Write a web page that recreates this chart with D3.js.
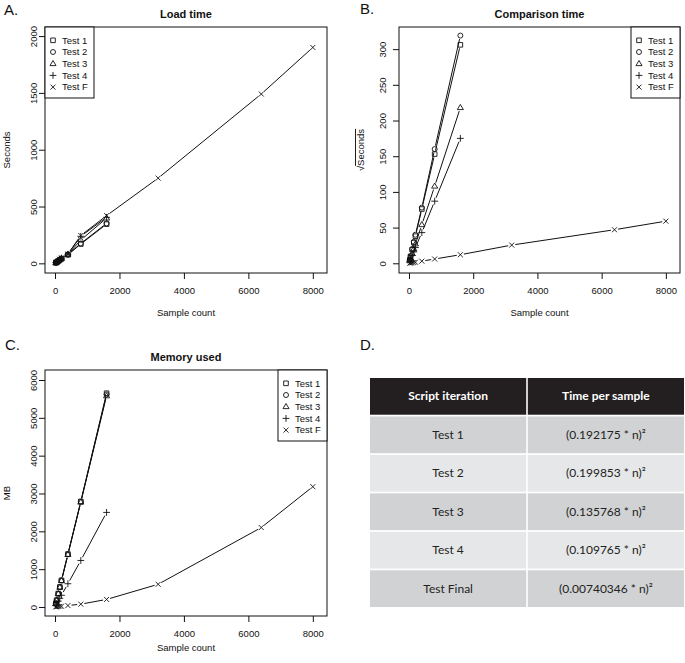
<!DOCTYPE html>
<html>
<head>
<meta charset="utf-8">
<script src="https://cdn.jsdelivr.net/npm/d3@7"></script>
<style>
  body { margin: 0; background: #fff; }
  svg text { font-family: "Liberation Sans", Arial, sans-serif; }
</style>
</head>
<body>
<div id="chart-area"></div>
<script>
// sample counts (x values)
var samples = [25, 50, 100, 150, 200, 400, 800, 1600];
var samplesF = [25, 50, 100, 150, 200, 400, 800, 1600, 3200, 6400, 8000];
var seriesNames = ["Test 1", "Test 2", "Test 3", "Test 4", "Test F"];
var symbolNames = ["square", "circle", "triangle", "plus", "cross"];
var xTicks = [0, 2000, 4000, 6000, 8000];

// A. load time (seconds)
var loadT1 = [5, 10, 20, 30, 40, 75, 170, 345];
var loadT2 = [5, 11, 21, 32, 42, 78, 175, 352];
var loadT3 = [5, 11, 22, 33, 44, 80, 205, 398];
var loadT4 = [6, 12, 23, 35, 46, 80, 238, 405];
var loadTF = [6, 12, 24, 36, 48, 82, 245, 420, 750, 1490, 1900];
var loadTicks = [0, 500, 1000, 1500, 2000];

// B. comparison time (sqrt seconds)
var compT1 = [4.8, 9.6, 19, 29, 38, 76, 153, 306];
var compT2 = [5, 10, 20, 30, 40, 78, 160, 319];
var compT3 = [3.4, 6.8, 13.5, 20, 27, 54, 108, 218];
var compT4 = [2.7, 5.5, 11, 16, 22, 43, 87, 175];
var compTF = [0.2, 0.4, 0.7, 1.1, 1.5, 3, 6, 12, 25.5, 47, 59];
var compTicks = [0, 50, 100, 150, 200, 250, 300];

// C. memory used (MB)
var memT1 = [90, 180, 355, 530, 705, 1400, 2790, 5650];
var memT2 = [88, 176, 350, 525, 700, 1390, 2780, 5620];
var memT3 = [87, 175, 348, 520, 695, 1385, 2770, 5580];
var memT4 = [40, 80, 155, 230, 310, 615, 1230, 2500];
var memTF = [5, 8, 12, 16, 20, 38, 75, 200, 600, 2100, 3180];
var memTicks = [0, 1000, 2000, 3000, 4000, 5000, 6000];

// D. table
var tableHeader = ["Script iteration", "Time per sample"];
var tableIterations = ["Test 1", "Test 2", "Test 3", "Test 4", "Test Final"];
var tableTimes = ["(0.192175 * n)\u00b2", "(0.199853 * n)\u00b2", "(0.135768 * n)\u00b2",
                  "(0.109765 * n)\u00b2", "(0.00740346 * n)\u00b2"];

var svg = d3.select("#chart-area")
    .append("svg")
    .attr("width", 685)
    .attr("height", 663);

svg.append("rect").attr("width", 685).attr("height", 663).attr("fill", "#fff");

function pack(ys) {
    return ys.map(function(v, i) {
        return { x: (ys.length === samples.length ? samples : samplesF)[i], y: v };
    });
}

function symbolPath(kind, cx, cy) {
    var r;
    if (kind === "square") {
        r = 2.3;
        return "M" + (cx - r) + "," + (cy - r) + "h" + 2 * r + "v" + 2 * r + "h" + (-2 * r) + "Z";
    }
    if (kind === "circle") {
        r = 2.5;
        return "M" + (cx - r) + "," + cy + "a" + r + "," + r + " 0 1,0 " + 2 * r + ",0a" + r + "," + r + " 0 1,0 " + (-2 * r) + ",0";
    }
    if (kind === "triangle") {
        r = 3.2;
        return "M" + cx + "," + (cy - r) + "L" + (cx + r * 0.95) + "," + (cy + r * 0.6) + "L" + (cx - r * 0.95) + "," + (cy + r * 0.6) + "Z";
    }
    if (kind === "plus") {
        r = 3.4;
        return "M" + (cx - r) + "," + cy + "H" + (cx + r) + "M" + cx + "," + (cy - r) + "V" + (cy + r);
    }
    r = 2.5;
    return "M" + (cx - r) + "," + (cy - r) + "L" + (cx + r) + "," + (cy + r) + "M" + (cx - r) + "," + (cy + r) + "L" + (cx + r) + "," + (cy - r);
}

var panels = [
    { label: "A.", labelPos: [4, 15], title: "Load time", ylab: "Seconds", ylabX: 10,
      box: [45, 27, 327, 273], ydom: [-85, 2080], yticks: loadTicks, ytickX: 37,
      series: [loadT1, loadT2, loadT3, loadT4, loadTF], legend: "left", xlabY: 316 },
    { label: "B.", labelPos: [360, 14], title: "Comparison time", ylab: "Seconds", sqrt: true, ylabX: 364,
      box: [399, 27, 680, 273], ydom: [-13.6, 331], yticks: compTicks, ytickX: 386,
      series: [compT1, compT2, compT3, compT4, compTF], legend: "right", xlabY: 316 },
    { label: "C.", labelPos: [5, 350], title: "Memory used", ylab: "MB", ylabX: 10,
      box: [45, 370, 327, 616], ydom: [-238, 6264], yticks: memTicks, ytickX: 37,
      series: [memT1, memT2, memT3, memT4, memTF], legend: "right", xlabY: 651 }
];

panels.forEach(function(p) {
    var x = d3.scaleLinear().domain([-311, 8440]).range([p.box[0], p.box[2]]);
    var y = d3.scaleLinear().domain(p.ydom).range([p.box[3], p.box[1]]);
    var g = svg.append("g");
    var cx = (p.box[0] + p.box[2]) / 2, cy = (p.box[1] + p.box[3]) / 2;

    // x axis
    var xa = g.append("g")
        .attr("transform", "translate(0," + p.box[3] + ")")
        .call(d3.axisBottom(x).tickValues(xTicks).tickSize(6).tickFormat(d3.format("d")));
    xa.select(".domain").remove();
    xa.selectAll("line").attr("stroke", "#111");
    xa.selectAll("text")
        .attr("y", 21).attr("dy", null)
        .attr("font-size", 9.5).attr("fill", "#111")
        .style("font-family", "'Liberation Sans', Arial, sans-serif");

    // y axis
    var ya = g.append("g")
        .attr("transform", "translate(" + p.box[0] + ",0)")
        .call(d3.axisLeft(y).tickValues(p.yticks).tickSize(6).tickFormat(d3.format("d")));
    ya.select(".domain").remove();
    ya.selectAll("line").attr("stroke", "#111");
    ya.selectAll("text")
        .attr("x", null).attr("dy", null)
        .attr("transform", "translate(" + (p.ytickX - p.box[0]) + ",0) rotate(-90)")
        .attr("text-anchor", "middle")
        .attr("font-size", 9.5).attr("fill", "#111")
        .style("font-family", "'Liberation Sans', Arial, sans-serif");

    // box
    g.append("rect")
        .attr("x", p.box[0]).attr("y", p.box[1])
        .attr("width", p.box[2] - p.box[0]).attr("height", p.box[3] - p.box[1])
        .attr("fill", "none").attr("stroke", "#111").attr("stroke-width", 1);

    // texts
    g.append("text").attr("x", p.labelPos[0]).attr("y", p.labelPos[1])
        .attr("font-size", 15).attr("fill", "#111").text(p.label);
    g.append("text").attr("x", cx).attr("y", p.box[1] - 9)
        .attr("text-anchor", "middle").attr("font-size", 11).attr("font-weight", "bold")
        .attr("fill", "#111").text(p.title);
    g.append("text").attr("x", cx).attr("y", p.xlabY)
        .attr("text-anchor", "middle").attr("font-size", 9.5).attr("fill", "#111")
        .text("Sample count");
    var yl = g.append("text")
        .attr("transform", "translate(" + p.ylabX + "," + cy + ") rotate(-90)")
        .attr("text-anchor", "middle").attr("font-size", 9.5).attr("fill", "#111");
    if (p.sqrt) {
        yl.append("tspan").text("\u221a");
        yl.append("tspan").style("text-decoration", "overline").text(p.ylab);
    } else {
        yl.text(p.ylab);
    }

    // series, R type = "b": lines with gaps around the points
    var gap = 3.6;
    p.series.forEach(function(s, si) {
        var pts = pack(s).map(function(d) { return [x(d.x), y(d.y)]; });
        for (var i = 0; i < pts.length - 1; i++) {
            var a = pts[i], b = pts[i + 1];
            var dx = b[0] - a[0], dy = b[1] - a[1];
            var len = Math.sqrt(dx * dx + dy * dy);
            if (len <= 2 * gap) continue;
            var ux = dx / len, uy = dy / len;
            g.append("line")
                .attr("x1", a[0] + ux * gap).attr("y1", a[1] + uy * gap)
                .attr("x2", b[0] - ux * gap).attr("y2", b[1] - uy * gap)
                .attr("stroke", "#111").attr("stroke-width", 1);
        }
        pts.forEach(function(pt) {
            g.append("path").attr("d", symbolPath(symbolNames[si], pt[0], pt[1]))
                .attr("fill", "none").attr("stroke", "#111").attr("stroke-width", 0.9);
        });
    });

    // legend
    var lw = 49, lh = 71;
    var lx = p.legend === "left" ? p.box[0] : p.box[2] - lw;
    var ly = p.box[1];
    var lg = g.append("g");
    lg.append("rect").attr("x", lx).attr("y", ly).attr("width", lw).attr("height", lh)
        .attr("fill", "#fff").attr("stroke", "#111").attr("stroke-width", 1);
    seriesNames.forEach(function(name, i) {
        var yy = ly + 13.3 + i * 11.7;
        lg.append("path").attr("d", symbolPath(symbolNames[i], lx + 8, yy))
            .attr("fill", "none").attr("stroke", "#111").attr("stroke-width", 0.9);
        lg.append("text").attr("x", lx + 17).attr("y", yy + 3.3)
            .attr("font-size", 9.5).attr("fill", "#111").text(name);
    });
});

// D. table
svg.append("text").attr("x", 360).attr("y", 350)
    .attr("font-size", 15).attr("fill", "#111").text("D.");

var rowBand = d3.scaleBand().domain(d3.range(tableIterations.length + 1))
    .range([378, 607]).paddingInner(0.045);
var colBand = d3.scaleBand().domain([0, 1]).range([370, 684]).paddingInner(0.01);
var rowFill = ["#231f20", "#d1d2d4", "#e6e7e8", "#d1d2d4", "#e6e7e8", "#d1d2d4"];

var cells = [];
cells.push({ r: 0, c: 0, t: tableHeader[0] }, { r: 0, c: 1, t: tableHeader[1] });
tableIterations.forEach(function(t, i) {
    cells.push({ r: i + 1, c: 0, t: t }, { r: i + 1, c: 1, t: tableTimes[i] });
});

var tg = svg.append("g");
tg.selectAll("rect").data(cells).enter().append("rect")
    .attr("x", function(d) { return colBand(d.c); })
    .attr("y", function(d) { return rowBand(d.r); })
    .attr("width", colBand.bandwidth())
    .attr("height", rowBand.bandwidth())
    .attr("fill", function(d) { return rowFill[d.r]; });
tg.selectAll("text").data(cells).enter().append("text")
    .attr("x", function(d) { return colBand(d.c) + colBand.bandwidth() / 2; })
    .attr("y", function(d) { return rowBand(d.r) + rowBand.bandwidth() / 2 + 4; })
    .attr("text-anchor", "middle")
    .attr("font-size", 12)
    .attr("font-weight", function(d) { return d.r === 0 ? "bold" : "normal"; })
    .attr("fill", function(d) { return d.r === 0 ? "#fff" : "#222"; })
    .style("font-family", "Lato, 'Open Sans', sans-serif")
    .text(function(d) { return d.t; });
</script>
</body>
</html>
